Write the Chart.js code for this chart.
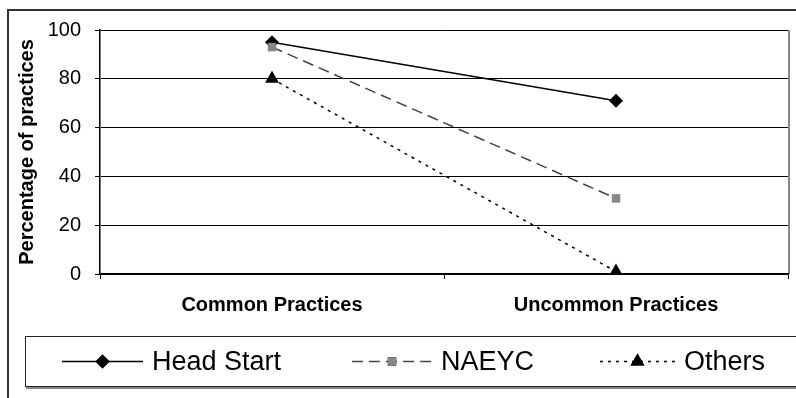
<!DOCTYPE html>
<html>
<head>
<meta charset="utf-8">
<script src="https://cdn.jsdelivr.net/npm/chart.js@4"></script>
<style>
  html, body { margin: 0; padding: 0; background: #fff; }
  #wrap { width: 796px; height: 398px; }
</style>
</head>
<body>
<div id="wrap"><canvas id="myChart" width="796" height="398"></canvas></div>
<script>
const categories = ["Common Practices", "Uncommon Practices"];
const headStart = [95, 71];
const naeyc = [93, 31];
const others = [80, 1];
const yTicks = [0, 20, 40, 60, 80, 100];

const FONT = "Arial, 'Liberation Sans', sans-serif";

// frame round the whole chart, plus the plot box on top/right
const framePlugin = {
  id: "frame",
  beforeDraw(chart) {
    const c = chart.ctx;
    const a = chart.chartArea;
    c.save();
    c.strokeStyle = "#333";
    c.lineWidth = 2;
    c.beginPath();
    c.moveTo(8, 398);
    c.lineTo(8, 10);
    c.lineTo(796, 10);
    c.stroke();
    // plot border top/right
    c.lineWidth = 1;
    c.strokeStyle = "#222";
    c.beginPath();
    c.moveTo(a.left, a.top + 0.5);
    c.lineTo(a.right + 0.5, a.top + 0.5);
    c.stroke();
    c.strokeStyle = "#888";
    c.lineWidth = 2;
    c.beginPath();
    c.moveTo(a.right + 1, a.top);
    c.lineTo(a.right + 1, a.bottom);
    c.stroke();
    c.restore();
  },
};

// Excel-style legend: line sample with marker in the middle
const legendPlugin = {
  id: "excelLegend",
  afterDraw(chart) {
    const c = chart.ctx;
    const starts = [62, 352, 600];
    const lens = [81, 80, 75];
    const y = 361.5;
    c.save();
    c.strokeStyle = "#222";
    c.lineWidth = 1;
    c.strokeRect(25.5, 336.5, 800, 50);
    c.strokeStyle = "#888";
    c.lineWidth = 2;
    c.beginPath();
    c.moveTo(26, 388);
    c.lineTo(796, 388);
    c.stroke();
    chart.data.datasets.forEach((ds, i) => {
      const x0 = starts[i];
      const x1 = x0 + lens[i];
      c.strokeStyle = ds.borderColor;
      c.lineWidth = ds.borderWidth;
      c.setLineDash(ds.borderDash || []);
      c.beginPath();
      c.moveTo(x0, y);
      c.lineTo(x1, y);
      c.stroke();
      c.setLineDash([]);
      Chart.helpers.drawPoint(c, {
        pointStyle: ds.pointStyle,
        radius: ds.pointRadius,
        rotation: 0,
        borderWidth: 0,
      }, (x0 + x1) / 2, y);
      c.fillStyle = ds.pointBackgroundColor;
      c.fill();
      c.fillStyle = "#000";
      c.font = "27px " + FONT;
      c.textBaseline = "middle";
      c.fillText(ds.label, x1 + 9, y + 1);
    });
    c.restore();
  },
};

const ctx = document.getElementById("myChart").getContext("2d");
const myChart = new Chart(ctx, {
  type: "line",
  data: {
    labels: categories,
    datasets: [
      {
        label: "Head Start",
        data: headStart,
        borderColor: "#000",
        borderWidth: 1.5,
        pointStyle: "rectRot",
        pointRadius: 7,
        pointBackgroundColor: "#000",
        pointBorderColor: "#000",
        pointBorderWidth: 0,
        order: 3,
      },
      {
        label: "NAEYC",
        data: naeyc,
        borderColor: "#444",
        borderWidth: 1.5,
        borderDash: [11, 6],
        pointStyle: "rect",
        pointRadius: 6,
        pointBackgroundColor: "#868686",
        pointBorderColor: "#868686",
        pointBorderWidth: 0,
        order: 2,
      },
      {
        label: "Others",
        data: others,
        borderColor: "#000",
        borderWidth: 1.5,
        borderDash: [3, 5],
        pointStyle: "triangle",
        pointRadius: 8,
        pointBackgroundColor: "#000",
        pointBorderColor: "#000",
        pointBorderWidth: 0,
        order: 1,
      },
    ],
  },
  options: {
    responsive: false,
    animation: false,
    layout: { padding: { left: 0, top: 30, right: 4, bottom: 0 } },
    plugins: {
      legend: { display: false },
      tooltip: { enabled: false },
    },
    scales: {
      x: {
        type: "category",
        offset: true,
        afterFit: (s) => { s.height = 124; },
        grid: {
          offset: true,
          drawOnChartArea: false,
          tickLength: 5,
          color: "#000",
        },
        border: { color: "#000", width: 1.5 },
        ticks: {
          color: "#000",
          padding: 14,
          font: { family: FONT, size: 20, weight: "bold" },
        },
      },
      y: {
        min: 0,
        max: 100,
        afterFit: (s) => { s.width = 100; },
        afterBuildTicks: (s) => { s.ticks = yTicks.map((v) => ({ value: v })); },
        grid: { color: "#000", tickLength: 5, lineWidth: 1 },
        border: { color: "#000", width: 1.5 },
        ticks: {
          color: "#000",
          padding: 14,
          font: { family: FONT, size: 20 },
        },
        title: {
          display: true,
          text: "Percentage of practices",
          color: "#000",
          padding: { top: 15, bottom: 0 },
          font: { family: FONT, size: 20, weight: "bold" },
        },
      },
    },
  },
  plugins: [framePlugin, legendPlugin],
});
</script>
</body>
</html>
